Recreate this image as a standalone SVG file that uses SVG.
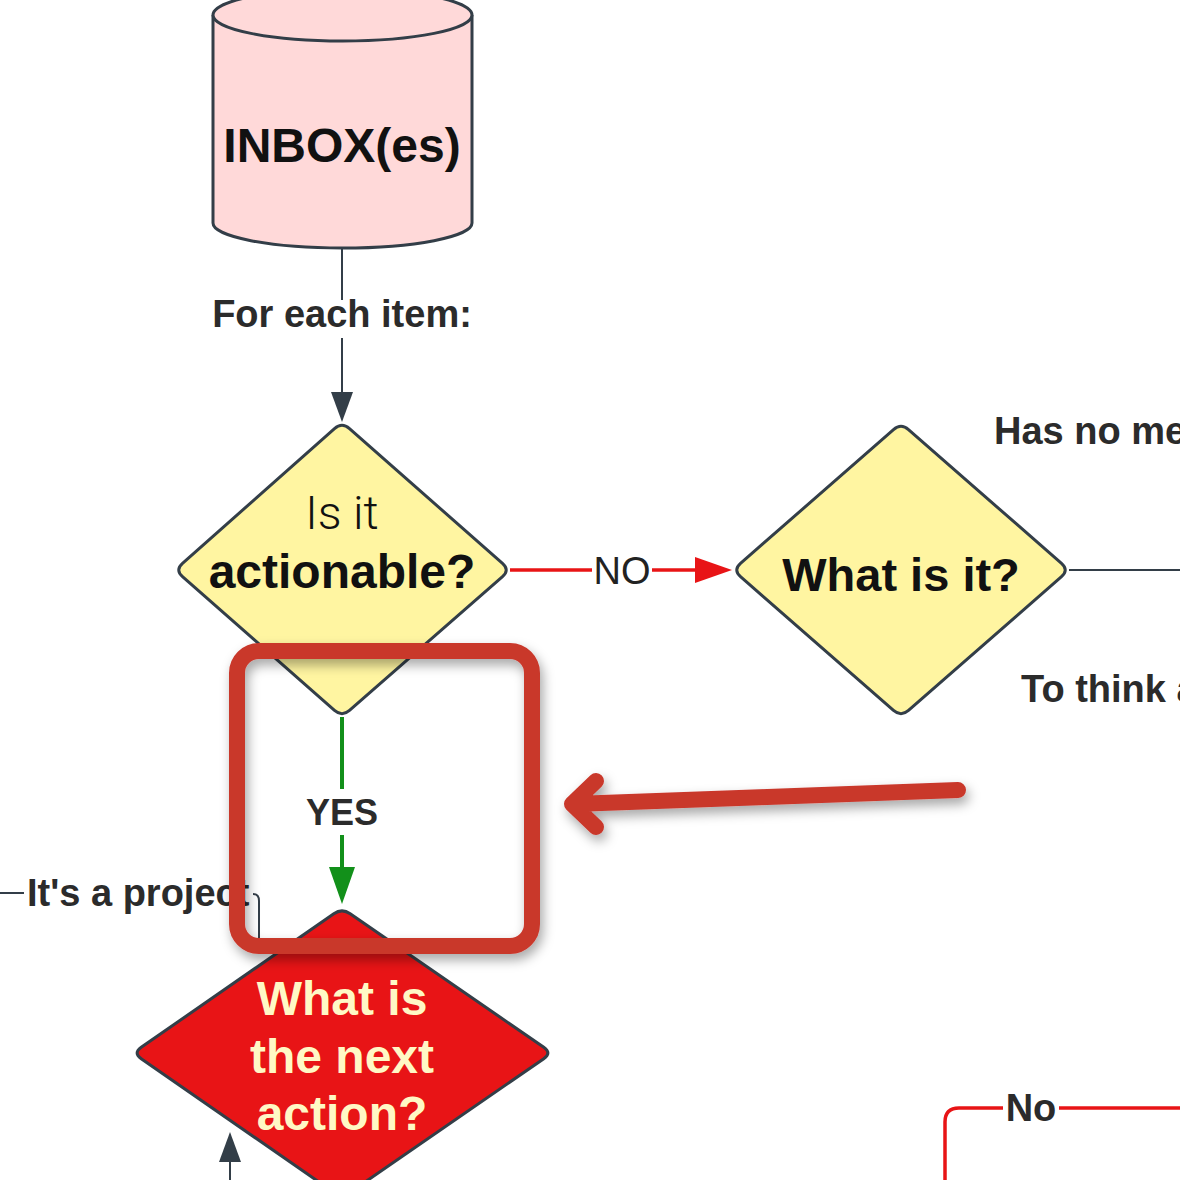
<svg xmlns="http://www.w3.org/2000/svg" width="1180" height="1180" viewBox="0 0 1180 1180">
<style>
.node{stroke:#333e48;stroke-width:3;stroke-linejoin:round}
.conn{fill:none;stroke:#333e48;stroke-width:2}
.red{fill:none;stroke:#e81416;stroke-width:3.5}
.green{fill:none;stroke:#12901a;stroke-width:4}
.lbl{font-family:"Liberation Sans",Arial,sans-serif;font-size:38px;font-weight:bold;fill:#2b2b2b}
.big{font-family:"Liberation Sans",Arial,sans-serif;font-weight:bold;fill:#111}
.ann{fill:none;stroke:#c9372c;stroke-width:16;stroke-linecap:round;stroke-linejoin:round}
</style>
<defs>
<marker id="ahDark" markerUnits="userSpaceOnUse" viewBox="0 0 30 22" refX="0" refY="11" markerWidth="30" markerHeight="22" orient="auto"><path d="M0,0 L30,11 L0,22 Z" fill="#333e48"/></marker>
<marker id="ahRed" markerUnits="userSpaceOnUse" viewBox="0 0 37 26" refX="0" refY="13" markerWidth="37" markerHeight="26" orient="auto"><path d="M0,0 L37,13 L0,26 Z" fill="#e81416"/></marker>
<marker id="ahGreen" markerUnits="userSpaceOnUse" viewBox="0 0 37 26" refX="0" refY="13" markerWidth="37" markerHeight="26" orient="auto"><path d="M0,0 L37,13 L0,26 Z" fill="#12901a"/></marker>
<filter id="sh" filterUnits="userSpaceOnUse" x="0" y="0" width="1180" height="1180"><feDropShadow dx="3" dy="6" stdDeviation="6" flood-color="#000" flood-opacity="0.35"/></filter>
</defs>

<g id="connectors">
<path class="conn" d="M342,248 V300"/>
<path class="conn" d="M342,338 V392" marker-end="url(#ahDark)"/>
<text class="lbl" x="342" y="327" text-anchor="middle">For each item:</text>
<path class="red" d="M510,570 H592"/>
<path class="red" d="M652,570 H695" marker-end="url(#ahRed)"/>
<text x="622" y="584" text-anchor="middle" style="font-family:'Liberation Sans',Arial,sans-serif;font-size:38px;fill:#222">NO</text>
<path class="green" d="M342,717 V789"/>
<path class="green" d="M342,835 V867" marker-end="url(#ahGreen)"/>
<text class="lbl" x="342" y="825" text-anchor="middle" style="font-size:36px">YES</text>
<path class="conn" d="M1069,570 H1180"/>
<text class="lbl" x="994" y="444">Has no me</text>
<text class="lbl" x="1021" y="702">To think a</text>
<path class="conn" d="M0,893 H24"/>
<path class="conn" d="M253,894 Q259,894 259,901 V947"/>
<text class="lbl" x="27" y="906">It's a project</text>
<path class="conn" d="M230,1180 V1162" marker-end="url(#ahDark)"/>
<path class="red" d="M945,1180 V1122 Q945,1108 959,1108 H1003"/>
<path class="red" d="M1059,1108 H1180"/>
<text class="lbl" x="1031" y="1121" text-anchor="middle">No</text>
</g>

<g id="inbox">
<path class="node" fill="#ffd9d9" d="M213,15 V223 A129.5,25 0 0 0 472,223 V15"/>
<ellipse class="node" fill="#ffd9d9" cx="342.5" cy="15" rx="129.5" ry="26"/>
<text class="big" x="342" y="162" text-anchor="middle" font-size="48">INBOX(es)</text>
</g>

<g id="actionable">
<path class="node" fill="#fff5a1" d="M334.5,428.6 Q342,422 349.5,428.6 L502.5,563.4 Q510,570 502.5,576.6 L349.5,710.4 Q342,717 334.5,710.4 L182.5,576.6 Q175,570 182.5,563.4 Z"/>
<text x="342" y="529" text-anchor="middle" style="font-family:Roboto,'Liberation Sans',sans-serif;font-weight:300;font-size:47px;fill:#111">Is it</text>
<text class="big" x="342" y="588" text-anchor="middle" font-size="48">actionable?</text>
</g>

<g id="whatisit">
<path class="node" fill="#fff5a1" d="M893.5,429.6 Q901,423 908.5,429.6 L1061.5,563.4 Q1069,570 1061.5,576.6 L908.5,710.4 Q901,717 893.5,710.4 L740.5,576.6 Q733,570 740.5,563.4 Z"/>
<text class="big" x="901" y="591" text-anchor="middle" font-size="47">What is it?</text>
</g>

<g id="nextaction">
<path class="node" fill="#e81416" d="M333.8,913.7 Q342,908 350.2,913.7 L543.8,1047.3 Q552,1053 543.8,1058.7 L350.2,1192.3 Q342,1198 333.8,1192.3 L141.2,1058.7 Q133,1053 141.2,1047.3 Z"/>
<g class="big" style="fill:#fff8c5" font-size="48" text-anchor="middle">
<text x="342" y="1015">What is</text>
<text x="342" y="1073">the next</text>
<text x="342" y="1130">action?</text>
</g>
</g>

<g id="annotation" filter="url(#sh)">
<rect class="ann" x="237" y="651" width="295" height="295" rx="22"/>
<path class="ann" d="M958,790 L574,804 M596,781 L572,804 L596,827"/>
</g>
</svg>
